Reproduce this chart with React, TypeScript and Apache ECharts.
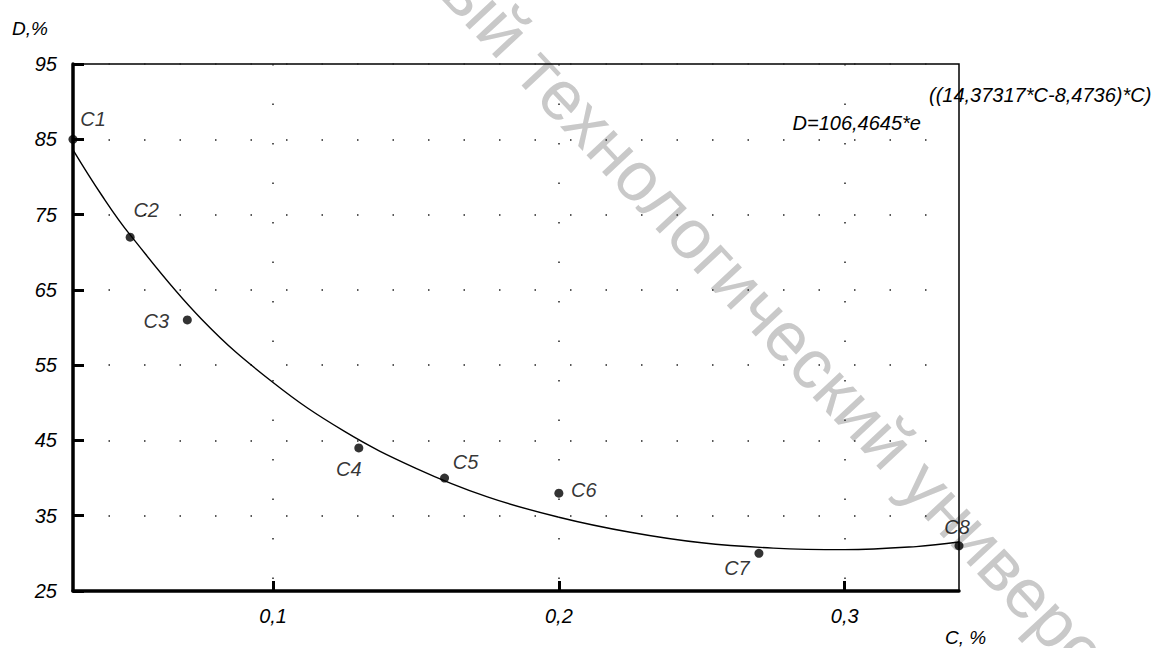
import React, { useEffect, useRef } from "react";
import * as echarts from "echarts";

// ---- data ----
const POINT_NAMES = ["C1", "C2", "C3", "C4", "C5", "C6", "C7", "C8"];
const POINT_C = [0.03, 0.05, 0.07, 0.13, 0.16, 0.2, 0.27, 0.34];
const POINT_D = [85, 72, 61, 44, 40, 38, 30, 31];

// fitted curve as drawn in the picture (sampled along C)
const CURVE_C = [0.03, 0.04, 0.05, 0.075, 0.1, 0.125, 0.15, 0.175, 0.2, 0.225, 0.25, 0.275, 0.3, 0.325, 0.34];
const CURVE_D = [83.6, 77.6, 72.3, 61.1, 52.7, 46.2, 41.3, 37.5, 34.8, 32.8, 31.4, 30.7, 30.5, 30.9, 31.5];

const X_MIN = 0.03;
const X_MAX = 0.34;
const X_TICKS = [0.1, 0.2, 0.3];
const Y_MIN = 25;
const Y_MAX = 95;
const Y_TICKS = [25, 35, 45, 55, 65, 75, 85, 95];

const Y_NAME = "D,%";
const X_NAME = "C, %";
const EQUATION_MAIN = "D=106,4645*e";
const EQUATION_EXP = "((14,37317*C-8,4736)*C)";
const WATERMARK = "ый технологический университет";

// ---- layout (not data) ----
const LABEL_OFFSETS: [number, number][] = [
  [20, -20],
  [16, -27],
  [-31, 1],
  [-10, 21],
  [21, -16],
  [25, -3],
  [-22, 15],
  [-2, -19],
];

const FONT = "'Liberation Sans', Arial, sans-serif";

export default function App() {
  const ref = useRef<HTMLDivElement>(null);

  useEffect(() => {
    if (!ref.current) return;
    const chart = echarts.init(ref.current, undefined, { renderer: "svg" });

    const textBase = {
      fontFamily: FONT,
      fontStyle: "italic",
      fontWeight: "normal",
      fill: "#000",
    };

    const option: any = {
      animation: false,
      backgroundColor: "#fff",
      grid: {
        left: 73,
        top: 64,
        width: 886,
        height: 527,
        show: true,
        borderColor: "#000",
        borderWidth: 1.5,
        backgroundColor: "transparent",
        outerBoundsMode: "none",
      },
      xAxis: {
        type: "value",
        min: X_MIN,
        max: X_MAX,
        axisLine: { show: true, onZero: false, lineStyle: { color: "#000", width: 3.5 } },
        axisTick: {
          show: true,
          inside: true,
          length: 10,
          customValues: X_TICKS,
          lineStyle: { color: "#000", width: 3 },
        },
        axisLabel: {
          customValues: X_TICKS,
          formatter: (v: number) => String(v).replace(".", ","),
          fontSize: 20,
          fontStyle: "italic",
          fontWeight: "normal",
          fontFamily: FONT,
          color: "#000",
          margin: 15,
        },
        splitLine: {
          show: true,
          lineStyle: { color: "#222", width: 1.5, type: [1.5, 38] },
        },
      },
      yAxis: {
        type: "value",
        min: Y_MIN,
        max: Y_MAX,
        axisLine: { show: true, onZero: false, lineStyle: { color: "#000", width: 3.5 } },
        axisTick: {
          show: true,
          inside: true,
          length: 11,
          customValues: Y_TICKS,
          lineStyle: { color: "#000", width: 3 },
        },
        axisLabel: {
          customValues: Y_TICKS,
          fontSize: 20,
          fontStyle: "italic",
          fontWeight: "normal",
          fontFamily: FONT,
          color: "#000",
          margin: 16,
        },
        splitLine: {
          show: true,
          lineStyle: { color: "#222", width: 1.5, type: [1.5, 34] },
        },
      },
      graphic: [
        {
          type: "text",
          x: 456,
          y: -20,
          rotation: -0.82,
          z: -10,
          silent: true,
          style: {
            text: WATERMARK,
            fontFamily: FONT,
            fontSize: 70,
            fill: "#c9c9c9",
            textAlign: "left",
            textVerticalAlign: "middle",
          },
        },
        {
          type: "text",
          x: 12,
          y: 28,
          style: { ...textBase, text: Y_NAME, fontSize: 19, textAlign: "left", textVerticalAlign: "middle" },
        },
        {
          type: "text",
          x: 945,
          y: 637,
          style: { ...textBase, text: X_NAME, fontSize: 19, textAlign: "left", textVerticalAlign: "middle" },
        },
        {
          type: "text",
          x: 921,
          y: 123,
          style: { ...textBase, text: EQUATION_MAIN, fontSize: 20, textAlign: "right", textVerticalAlign: "middle" },
        },
        {
          type: "text",
          x: 929,
          y: 95,
          style: { ...textBase, text: EQUATION_EXP, fontSize: 20, textAlign: "left", textVerticalAlign: "middle" },
        },
      ],
      series: [
        {
          type: "line",
          data: CURVE_C.map((c, i) => [c, CURVE_D[i]]),
          smooth: 0.4,
          showSymbol: false,
          symbol: "none",
          lineStyle: { color: "#000", width: 1.4 },
          silent: true,
          z: 3,
        },
        {
          type: "scatter",
          data: POINT_C.map((c, i) => ({
            value: [c, POINT_D[i]],
            name: POINT_NAMES[i],
            label: { offset: LABEL_OFFSETS[i] },
          })),
          symbol: "circle",
          symbolSize: 9,
          itemStyle: { color: "#000" },
          clip: false,
          z: 4,
          label: {
            show: true,
            position: "inside",
            formatter: (p: any) => p.name,
            fontSize: 20,
            fontStyle: "italic",
            fontWeight: "normal",
            fontFamily: FONT,
            color: "#000",
          },
        },
      ],
    };

    chart.setOption(option);
    return () => chart.dispose();
  }, []);

  return (
    <div
      ref={ref}
      style={{ position: "absolute", left: 0, top: 0, width: 1153, height: 648, background: "#fff" }}
    />
  );
}
